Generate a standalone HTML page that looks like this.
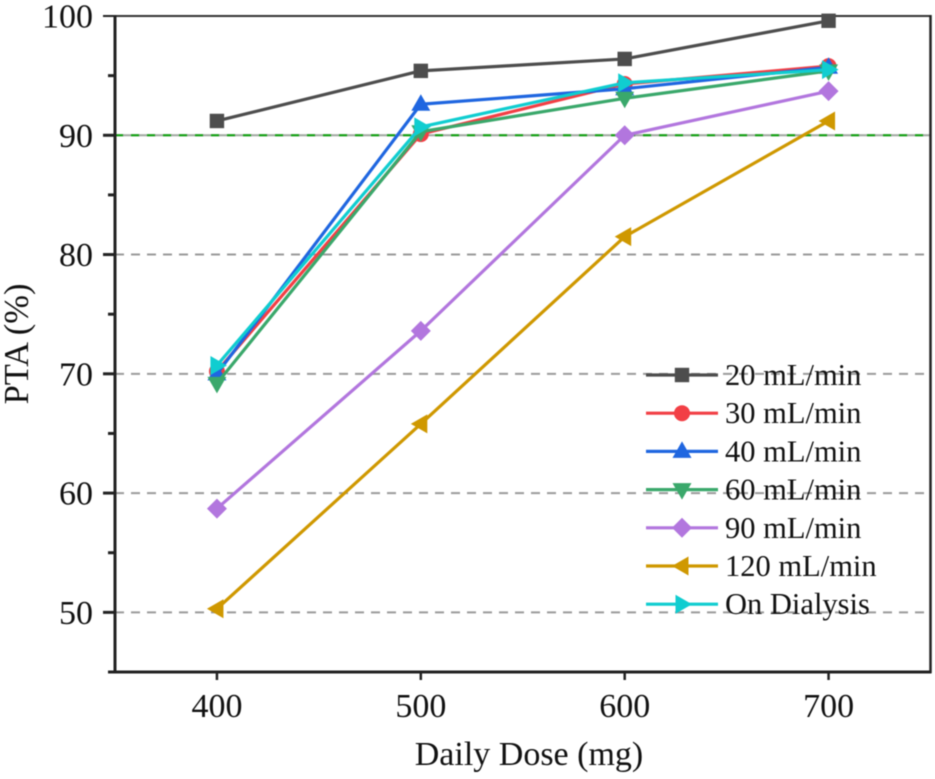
<!DOCTYPE html>
<html>
<head>
<meta charset="utf-8">
<style>
html,body{margin:0;padding:0;background:#fff;width:935px;height:779px;overflow:hidden}
svg{display:block;filter:blur(0.5px)}
text{font-family:"Liberation Serif",serif;fill:#111}
</style>
</head>
<body>
<svg id="chart" width="935" height="779" viewBox="0 0 935 779" xmlns="http://www.w3.org/2000/svg"></svg>
<script>
const doses = [400, 500, 600, 700];
const xTickLabels = [400, 500, 600, 700];
const yTickLabels = [50, 60, 70, 80, 90, 100];
const yMinorTicks = [45, 55, 65, 75, 85, 95];
const gridValues = [50, 60, 70, 80, 90];
const referenceValue = 90;
const seriesNames = ['20 mL/min', '30 mL/min', '40 mL/min', '60 mL/min', '90 mL/min', '120 mL/min', 'On Dialysis'];
const seriesColors = ['#4d4d4d', '#f23f45', '#1f66e0', '#3aa86b', '#b276de', '#cf9800', '#10cdd0'];
const seriesMarkers = ['square', 'circle', 'up', 'down', 'diamond', 'left', 'right'];
const pta20 = [91.2, 95.4, 96.4, 99.6];
const pta30 = [70.2, 90.1, 94.3, 95.8];
const pta40 = [70.0, 92.6, 93.9, 95.7];
const pta60 = [69.2, 90.3, 93.1, 95.4];
const pta90 = [58.7, 73.6, 90.0, 93.7];
const pta120 = [50.3, 65.8, 81.5, 91.2];
const ptaDialysis = [70.7, 90.7, 94.4, 95.5];
const allSeries = [pta20, pta30, pta40, pta60, pta90, pta120, ptaDialysis];

const NS = 'http://www.w3.org/2000/svg';
const svg = document.getElementById('chart');
const L = 115, R = 930.5, T = 16, B = 672;
const xDomain = [350, 750], yDomain = [45, 100];
const xScale = v => L + (v - xDomain[0]) / (xDomain[1] - xDomain[0]) * (R - L);
const yScale = v => B - (v - yDomain[0]) / (yDomain[1] - yDomain[0]) * (B - T);

function make(tag, attrs, parent) {
  const el = document.createElementNS(NS, tag);
  for (const k in attrs) el.setAttribute(k, attrs[k]);
  (parent || svg).appendChild(el);
  return el;
}
function markerShape(kind, cx, cy, color, parent) {
  let el;
  if (kind === 'square') {
    el = make('rect', {x: cx - 7.2, y: cy - 7.2, width: 14.4, height: 14.4, fill: color}, parent);
  } else if (kind === 'circle') {
    el = make('circle', {cx: cx, cy: cy, r: 8, fill: color}, parent);
  } else {
    const pts = {
      up: [[0, -10], [9.5, 6.5], [-9.5, 6.5]],
      down: [[0, 10], [9.5, -6.5], [-9.5, -6.5]],
      left: [[-10, 0], [6.5, -9.5], [6.5, 9.5]],
      right: [[10, 0], [-6.5, -9.5], [-6.5, 9.5]],
      diamond: [[0, -10], [10, 0], [0, 10], [-10, 0]]
    }[kind];
    el = make('polygon', {points: pts.map(p => (cx + p[0]) + ',' + (cy + p[1])).join(' '), fill: color}, parent);
  }
  return el;
}

// grid
gridValues.forEach(v => {
  const g = make('line', {x1: L, x2: R, y1: yScale(v), y2: yScale(v), stroke: '#9a9a9a', 'stroke-width': 2, 'stroke-dasharray': '9 7'});
  
  
});
const refBase = make('line', {x1: L, x2: R, y1: yScale(referenceValue), y2: yScale(referenceValue), stroke: '#a0a8a0', 'stroke-width': 2});


const ref = make('line', {x1: L, x2: R, y1: yScale(referenceValue), y2: yScale(referenceValue), stroke: '#0fa30f', 'stroke-width': 2, 'stroke-dasharray': '8 8'});



// axes frame
const frame = make('rect', {x: L, y: T, width: R - L, height: B - T, fill: 'none', stroke: '#333', 'stroke-width': 2});


const yAxis = make('line', {x1: L, x2: L, y1: T - 1, y2: B + 1, stroke: '#222', 'stroke-width': 3});


const xAxis = make('line', {x1: L - 7, x2: R + 1, y1: B, y2: B, stroke: '#222', 'stroke-width': 3});


const rightAxis = make('line', {x1: R, x2: R, y1: T - 1, y2: B + 1, stroke: '#222', 'stroke-width': 2.5});



// y ticks
yTickLabels.forEach(v => {
  const t = make('line', {x1: L - 12, x2: L, y1: yScale(v), y2: yScale(v), stroke: '#222', 'stroke-width': v === 100 ? 2 : 3});
  
  
  const lab = make('text', {x: L - 22, y: yScale(v) + 11.5, 'text-anchor': 'end', 'font-size': 34});
  lab.textContent = v;
  
  
});
yMinorTicks.forEach(v => {
  const t = make('line', {x1: L - 7, x2: L, y1: yScale(v), y2: yScale(v), stroke: '#222', 'stroke-width': 3});
  
  
});
// x ticks
xTickLabels.forEach(v => {
  const t = make('line', {x1: xScale(v), x2: xScale(v), y1: B, y2: B + 8, stroke: '#222', 'stroke-width': 2.5});
  
  
  const lab = make('text', {x: xScale(v), y: 717, 'text-anchor': 'middle', 'font-size': 34});
  lab.textContent = v;
  
  
});

// titles
const xTitle = make('text', {x: 529, y: 765, 'text-anchor': 'middle', 'font-size': 34});
xTitle.textContent = 'Daily Dose (mg)';


const yTitle = make('text', {transform: 'translate(28,344) rotate(-90)', 'text-anchor': 'middle', 'font-size': 34.5});
yTitle.textContent = 'PTA (%)';



// series
allSeries.forEach((vals, i) => {
  const g = make('g', {});
  
  
  const pts = vals.map((v, j) => xScale(doses[j]) + ',' + yScale(v)).join(' ');
  const line = make('polyline', {points: pts, fill: 'none', stroke: seriesColors[i], 'stroke-width': 3.2, 'stroke-linejoin': 'round'}, g);
  
  
  vals.forEach((v, j) => {
    const m = markerShape(seriesMarkers[i], xScale(doses[j]), yScale(v), seriesColors[i], g);
    
    
  });
});

// legend
const legend = make('g', {});


seriesNames.forEach((name, i) => {
  const y = 375 + i * 38.2;
  const e = make('g', {}, legend);
  
  
  const l = make('line', {x1: 646, x2: 718, y1: y, y2: y, stroke: seriesColors[i], 'stroke-width': 3.2}, e);
  
  
  const m = markerShape(seriesMarkers[i], 682, y, seriesColors[i], e);
  
  
  const t = make('text', {x: 725, y: y + 10, 'font-size': 30.5}, e);
  t.textContent = name;
  
  
});
</script>
</body>
</html>
